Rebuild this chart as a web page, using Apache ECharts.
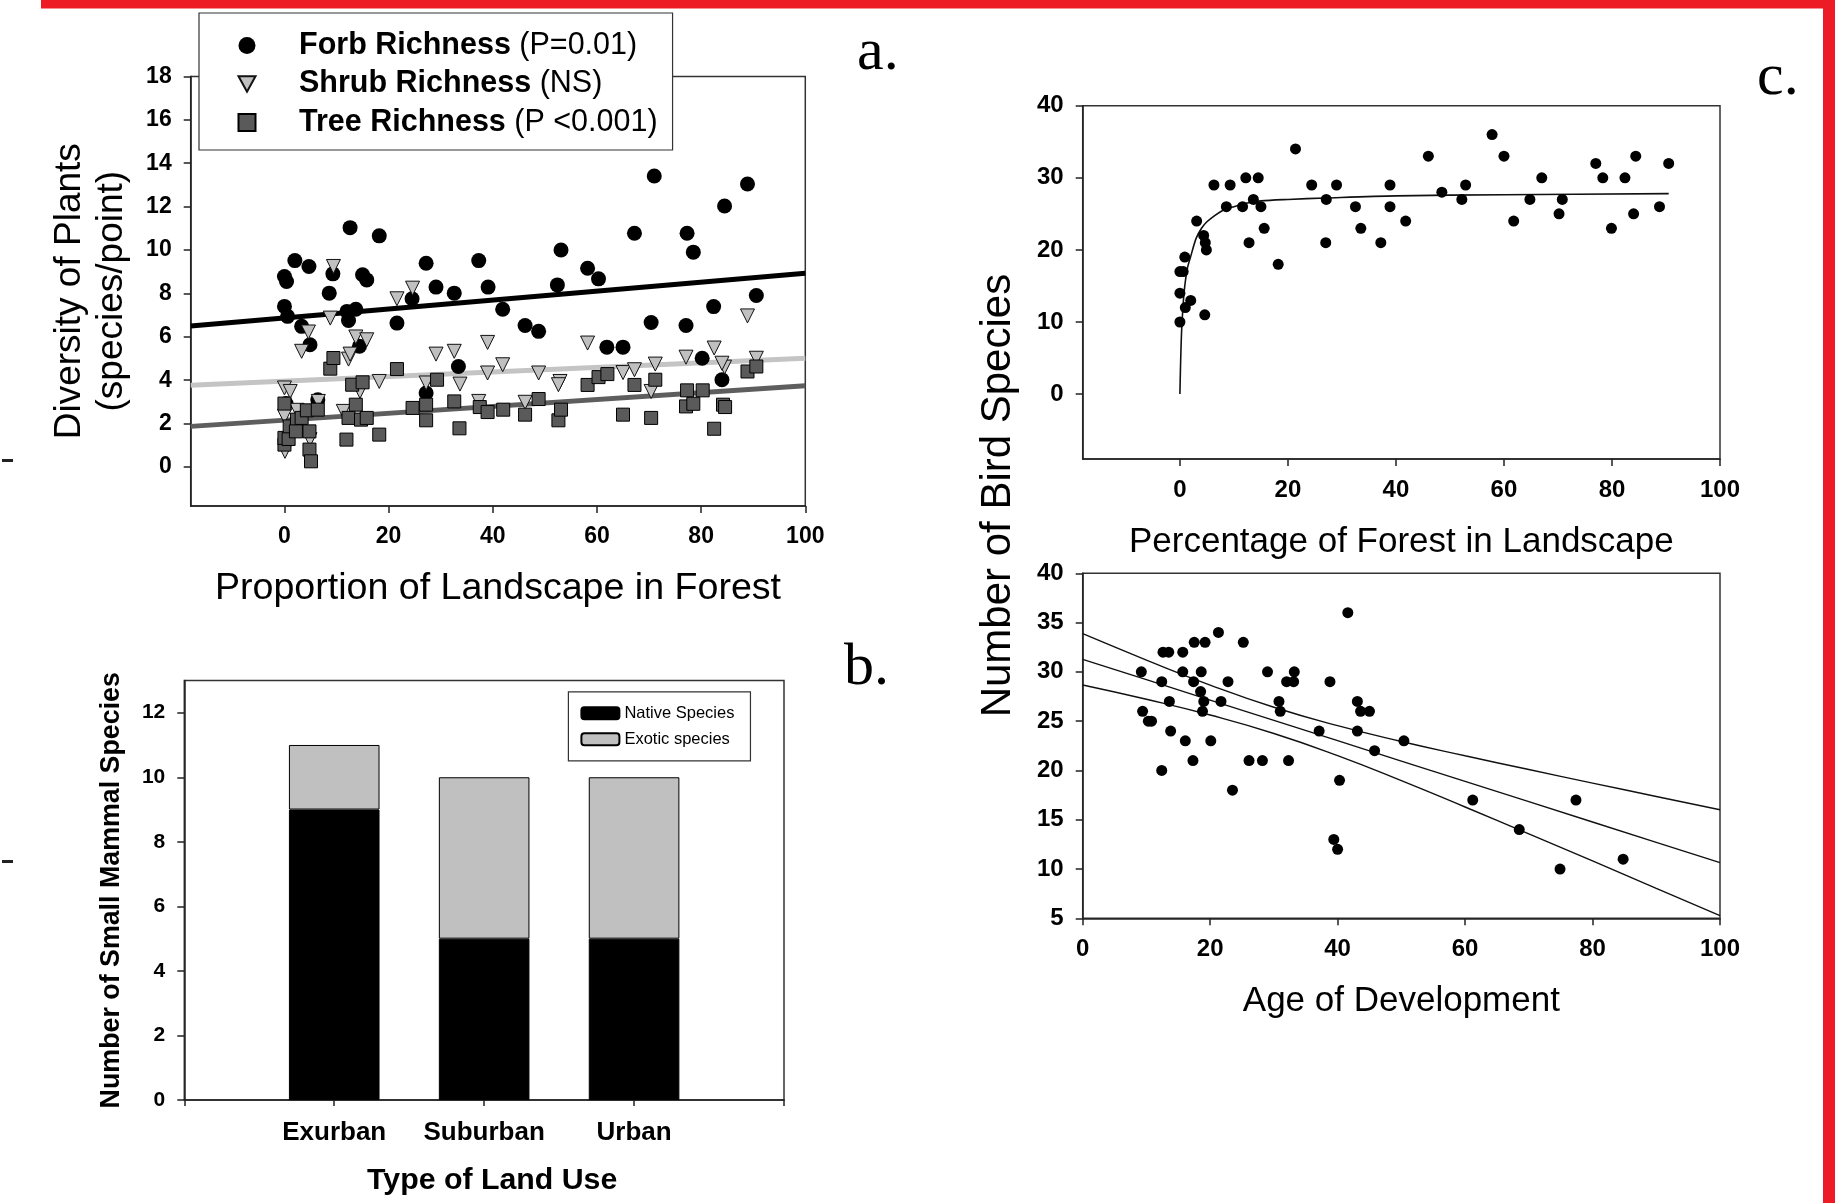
<!DOCTYPE html>
<html>
<head>
<meta charset="utf-8">
<script src="https://cdn.jsdelivr.net/npm/echarts@6/dist/echarts.min.js"></script>
<style>
html,body{margin:0;padding:0;background:#fff;}
#chart{width:1835px;height:1203px;}
</style>
</head>
<body>
<div id="chart"></div>
<script>
// ---------------- Panel a: plant diversity ----------------
const aXTicks = [0, 20, 40, 60, 80, 100];
const aYTicks = [0, 2, 4, 6, 8, 10, 12, 14, 16, 18];
const forbPts = [[0,8.78],[0.4,8.55],[2.0,9.51],[4.7,9.24],[0,7.40],[0.6,6.94],[3.3,6.48],[4.9,5.63],[9.3,8.90],[8.6,8.01],[12.6,11.03],[12.0,7.17],[12.3,6.75],[13.7,7.27],[15.0,8.86],[15.8,8.62],[14.4,5.56],[18.2,10.65],[21.6,6.63],[24.5,7.75],[27.2,9.39],[29.1,8.29],[32.6,8.01],[33.4,4.63],[27.2,3.41],[37.3,9.51],[39.1,8.29],[41.9,7.27],[46.2,6.52],[48.8,6.25],[53.1,10.0],[52.4,8.39],[0.3,2.92],[6.4,3.1],[71.0,13.41],[88.9,13.04],[84.5,12.03],[67.2,10.77],[77.3,10.77],[78.5,9.90],[58.2,9.16],[60.3,8.67],[90.6,7.90],[82.4,7.39],[70.4,6.66],[77.1,6.52],[61.9,5.52],[65.0,5.52],[80.2,5.01],[84.0,4.02]];
const shrubPts = [[9.4,9.24],[3.3,5.33],[4.6,6.22],[8.8,6.86],[12.3,4.97],[12.6,5.2],[13.7,5.99],[15.8,5.86],[0,3.64],[1.1,3.48],[0,2.33],[2.4,2.61],[4.9,1.26],[0.1,0.72],[6.5,3.02],[14.5,3.48],[11.3,2.56],[18.2,3.94],[21.6,7.75],[24.6,8.24],[27.2,3.87],[29.1,5.2],[32.6,5.33],[33.7,3.82],[39.0,5.74],[39.0,4.33],[41.9,4.71],[37.3,3.02],[46.2,2.98],[48.8,4.33],[52.9,3.94],[52.6,3.79],[58.2,5.71],[88.9,6.96],[65.0,4.35],[67.2,4.48],[71.2,4.74],[70.4,3.48],[77.1,5.06],[82.5,5.48],[84.5,4.60],[84.0,4.78],[90.6,5.01]];
const treePts = [[0,2.92],[0,1.03],[0,1.34],[0.8,1.29],[1.0,1.87],[2.4,2.18],[3.3,2.26],[2.2,1.64],[4.8,1.64],[4.3,2.61],[4.8,0.80],[5.1,0.26],[6.4,2.64],[8.8,4.53],[9.4,5.02],[11.9,1.26],[12.3,2.26],[13.0,3.79],[13.7,2.87],[14.7,2.18],[15.8,2.26],[15.0,3.90],[18.2,1.49],[21.6,4.51],[24.6,2.72],[27.2,2.87],[27.2,2.15],[29.3,4.02],[32.6,3.02],[33.6,1.78],[37.5,2.76],[39.0,2.53],[42.0,2.64],[46.2,2.41],[48.8,3.13],[52.6,2.15],[53.1,2.64],[58.2,3.78],[60.3,4.14],[62.0,4.28],[67.2,3.78],[65.0,2.41],[70.4,2.26],[71.2,4.02],[77.3,3.53],[80.3,3.53],[77.1,2.79],[78.5,2.91],[82.5,1.76],[84.2,2.87],[84.6,2.76],[88.9,4.40],[90.6,4.63]];
const aFitX = [-18, 100];
const forbFit = [6.5, 8.93];
const shrubFit = [3.76, 5.01];
const treeFit = [1.87, 3.74];

// ---------------- Panel b: small mammals ----------------
const bCats = ['', 'Exurban', 'Suburban', 'Urban', ''];
const nativeVals = [null, 9, 5, 5, null];
const exoticVals = [null, 2, 5, 5, null];
const bYTicks = [0, 2, 4, 6, 8, 10, 12];

// ---------------- Panel c (top): birds vs forest ----------------
const cTopXTicks = [0, 20, 40, 60, 80, 100];
const cTopYTicks = [0, 10, 20, 30, 40];
const birdForestPts = [[21.4,34],[12.2,30],[14.5,30],[6.3,29],[9.3,29],[24.4,29],[29.0,29],[38.9,29],[13.6,27],[27.1,27],[8.6,26],[11.6,26],[15.0,26],[32.5,26],[38.9,26],[3.1,24],[15.6,23],[33.5,23],[41.8,24],[4.4,22],[4.7,21],[4.9,20],[12.8,21],[27.0,21],[37.2,21],[18.2,18],[0.9,19],[0,17],[0.6,17],[0,14],[2.0,13],[1.0,12],[0,10],[4.6,11],[57.8,36],[46.0,33],[60.0,33],[84.4,33],[77.0,32],[90.5,32],[67.0,30],[78.3,30],[82.4,30],[52.9,29],[48.5,28],[52.2,27],[64.8,27],[70.8,27],[61.8,24],[70.2,25],[84.0,25],[88.8,26],[79.9,23]];
const curveX = [0, 0.1, 0.3, 0.6, 0.9, 1.4, 2, 3, 4, 5, 6.5, 8, 10, 12.5, 15, 20, 27, 40, 60, 90.5];
const curveY = [0, 3.5, 8.5, 12.5, 15, 17.5, 19.1, 21.6, 23, 23.9, 24.8, 25.5, 26, 26.5, 26.8, 27, 27.2, 27.5, 27.65, 27.8];

// ---------------- Panel c (bottom): birds vs age ----------------
const birdAgePts = [[41.6,36],[21.3,34],[17.5,33],[19.2,33],[25.2,33],[12.6,32],[13.5,32],[15.7,32],[9.2,30],[15.7,30],[18.6,30],[29.0,30],[33.2,30],[12.4,29],[17.4,29],[22.8,29],[32.0,29],[33.1,29],[38.8,29],[18.5,28],[13.6,27],[19.0,27],[21.7,27],[30.8,27],[43.1,27],[9.4,26],[18.8,26],[31.0,26],[43.6,26],[45.0,26],[10.3,25],[10.8,25],[13.8,24],[37.1,24],[43.1,24],[50.4,23],[16.1,23],[20.1,23],[45.8,22],[17.3,21],[26.1,21],[28.2,21],[32.3,21],[12.4,20],[40.3,19],[23.5,18],[39.4,13],[40.0,12],[61.2,17],[77.4,17],[68.5,14],[84.8,11],[74.9,10]];
const ageX = [0, 10, 20, 30, 40, 50, 60, 70, 80, 90, 100];
const ageUpper = [33.87, 31.20, 28.66, 26.41, 24.54, 22.94, 21.49, 20.09, 18.72, 17.36, 16.01];
const ageFit = [31.27, 29.21, 27.14, 25.08, 23.02, 20.95, 18.89, 16.83, 14.77, 12.70, 10.64];
const ageLower = [28.67, 27.22, 25.62, 23.75, 21.50, 18.96, 16.29, 13.57, 10.82, 8.04, 5.27];

const legendLabelsA = {
  'Forb Richness': '{pad| }{b|Forb Richness} (P=0.01)',
  'Shrub Richness': '{pad| }{b|Shrub Richness} (NS)',
  'Tree Richness': '{pad| }{b|Tree Richness} (P <0.001)'
};

const FONT = "'Liberation Sans', Arial, Helvetica, sans-serif";
const SERIF = "'Liberation Serif', 'Times New Roman', serif";
const AXC = '#222';
const DOWN_TRI = 'path://M0,0 L10,0 L5,9 Z';

function zip(xs, ys) { return xs.map((x, i) => [x, ys[i]]); }

function valAxis(grid, min, max, ticks, labelSize, extra) {
  const ax = {
    type: 'value', gridIndex: grid, min: min, max: max,
    splitLine: { show: false },
    axisLine: { show: true, onZero: false, lineStyle: { color: AXC, width: 1.5 } },
    axisTick: { show: true, length: 7, lineStyle: { color: AXC, width: 1.5 } },
    axisLabel: { fontFamily: FONT, fontWeight: 'bold', fontSize: labelSize, color: '#000', margin: 19 }
  };
  if (ticks) {
    ax.axisTick.customValues = ticks;
    ax.axisLabel.customValues = ticks;
  }
  return Object.assign(ax, extra || {});
}

const chart = echarts.init(document.getElementById('chart'), null, { renderer: 'canvas' });

const option = {
  backgroundColor: '#fff',
  animation: false,
  grid: [
    { left: 190.7, top: 76.4, width: 614.6, height: 429.6, show: true, borderColor: '#333', borderWidth: 1.5, backgroundColor: 'transparent' },
    { left: 184.3, top: 680.4, width: 599.7, height: 419.7, show: true, borderColor: '#333', borderWidth: 1.5, backgroundColor: 'transparent' },
    { left: 1082.7, top: 105.7, width: 637.3, height: 353.3, show: true, borderColor: '#333', borderWidth: 1.5, backgroundColor: 'transparent' },
    { left: 1082.7, top: 573.3, width: 637.3, height: 345, show: true, borderColor: '#333', borderWidth: 1.5, backgroundColor: 'transparent' }
  ],
  xAxis: [
    valAxis(0, -18, 100, aXTicks, 23, {
      name: 'Proportion of Landscape in Forest', nameLocation: 'middle', nameGap: 64,
      nameTextStyle: { fontFamily: FONT, fontSize: 37.6, color: '#000' }
    }),
    {
      type: 'category', gridIndex: 1, data: bCats, boundaryGap: false,
      axisLine: { show: true, onZero: false, lineStyle: { color: AXC, width: 1.5 } },
      axisTick: { show: true, length: 6, interval: 0, lineStyle: { color: AXC, width: 1.5 } },
      axisLabel: { interval: 0, fontFamily: FONT, fontWeight: 'bold', fontSize: 26, color: '#000', margin: 20 },
      splitLine: { show: false },
      name: 'Type of Land Use', nameLocation: 'middle', nameGap: 66,
      nameTextStyle: { fontFamily: FONT, fontWeight: 'bold', fontSize: 30.3, color: '#000', padding: [0, 0, 0, 16] }
    },
    valAxis(2, -18, 100, cTopXTicks, 24, {
      name: 'Percentage of Forest in Landscape', nameLocation: 'middle', nameGap: 66,
      nameTextStyle: { fontFamily: FONT, fontSize: 35, color: '#000' }
    }),
    valAxis(3, 0, 100, null, 24, {
      interval: 20,
      name: 'Age of Development', nameLocation: 'middle', nameGap: 66,
      nameTextStyle: { fontFamily: FONT, fontSize: 35, color: '#000' }
    })
  ],
  yAxis: [
    valAxis(0, -1.8, 18, aYTicks, 23, {
      name: 'Diversity of Plants\n(species/point)', nameLocation: 'middle', nameGap: 58, nameRotate: 90,
      nameTextStyle: { fontFamily: FONT, fontSize: 37, color: '#000', lineHeight: 42 }
    }),
    valAxis(1, 0, 13, bYTicks, 21, {
      name: 'Number of Small Mammal Species', nameLocation: 'middle', nameGap: 59, nameRotate: 90,
      nameTextStyle: { fontFamily: FONT, fontWeight: 'bold', fontSize: 26.8, color: '#000' }
    }),
    valAxis(2, -9, 40, cTopYTicks, 24),
    valAxis(3, 5, 40, null, 24, { interval: 5 })
  ],
  legend: [
    {
      data: [
        { name: 'Forb Richness', icon: 'circle' },
        { name: 'Shrub Richness', icon: DOWN_TRI },
        { name: 'Tree Richness', icon: 'rect' }
      ],
      orient: 'vertical', left: 199, top: 13,
      padding: [17, 15, 12, 38.5], itemWidth: 17, itemHeight: 17, itemGap: 7.5,
      backgroundColor: '#fff', borderColor: '#333', borderWidth: 1.2,
      selectedMode: false, z: 10,
      formatter: function (name) { return legendLabelsA[name]; },
      textStyle: {
        fontFamily: FONT, fontSize: 30.5, color: '#000', lineHeight: 30,
        rich: {
          b: { fontFamily: FONT, fontSize: 30.5, fontWeight: 'bold', color: '#000', lineHeight: 30 },
          pad: { width: 38.5, fontSize: 30.5, lineHeight: 30 }
        }
      }
    },
    {
      data: ['Native Species', 'Exotic species'],
      orient: 'vertical', left: 568.4, top: 691.8,
      padding: [13, 16, 13, 12], itemWidth: 38, itemHeight: 12, itemGap: 9,
      backgroundColor: '#fff', borderColor: '#333', borderWidth: 1.2,
      selectedMode: false, z: 10,
      textStyle: { fontFamily: FONT, fontSize: 16.5, color: '#000', lineHeight: 16 }
    }
  ],
  series: [
    // panel a regression lines
    { type: 'line', xAxisIndex: 0, yAxisIndex: 0, data: zip(aFitX, forbFit), symbol: 'none', lineStyle: { color: '#000', width: 5 }, silent: true, z: 1 },
    { type: 'line', xAxisIndex: 0, yAxisIndex: 0, data: zip(aFitX, shrubFit), symbol: 'none', lineStyle: { color: '#c4c4c4', width: 5 }, silent: true, z: 1 },
    { type: 'line', xAxisIndex: 0, yAxisIndex: 0, data: zip(aFitX, treeFit), symbol: 'none', lineStyle: { color: '#5e5e5e', width: 5 }, silent: true, z: 1 },
    // panel a points
    { name: 'Forb Richness', type: 'scatter', xAxisIndex: 0, yAxisIndex: 0, data: forbPts, symbol: 'circle', symbolSize: 15, itemStyle: { color: '#000', opacity: 1 }, z: 2 },
    { name: 'Shrub Richness', type: 'scatter', xAxisIndex: 0, yAxisIndex: 0, data: shrubPts, symbol: 'triangle', symbolRotate: 180, symbolSize: 14, itemStyle: { color: '#c0c0c0', borderColor: '#111', borderWidth: 1, opacity: 1 }, z: 3 },
    { name: 'Tree Richness', type: 'scatter', xAxisIndex: 0, yAxisIndex: 0, data: treePts, symbol: 'rect', symbolSize: 13, itemStyle: { color: '#5a5a5a', borderColor: '#000', borderWidth: 1, opacity: 1 }, z: 4 },
    // panel b bars
    { name: 'Native Species', type: 'bar', xAxisIndex: 1, yAxisIndex: 1, stack: 'mam', data: nativeVals, barWidth: 90.6, itemStyle: { color: '#000', borderColor: '#000', borderWidth: 1 } },
    { name: 'Exotic species', type: 'bar', xAxisIndex: 1, yAxisIndex: 1, stack: 'mam', data: exoticVals, barWidth: 90.6, itemStyle: { color: '#c0c0c0', borderColor: '#000', borderWidth: 1 } },
    // panel c top
    { type: 'line', xAxisIndex: 2, yAxisIndex: 2, data: zip(curveX, curveY), symbol: 'none', smooth: 0.3, lineStyle: { color: '#111', width: 1.6 }, silent: true, z: 1 },
    { type: 'scatter', xAxisIndex: 2, yAxisIndex: 2, data: birdForestPts, symbol: 'circle', symbolSize: 11, itemStyle: { color: '#000', opacity: 1 }, z: 2 },
    // panel c bottom
    { type: 'line', xAxisIndex: 3, yAxisIndex: 3, data: zip(ageX, ageUpper), symbol: 'none', smooth: true, lineStyle: { color: '#111', width: 1.4 }, silent: true, z: 1 },
    { type: 'line', xAxisIndex: 3, yAxisIndex: 3, data: zip(ageX, ageFit), symbol: 'none', lineStyle: { color: '#111', width: 1.4 }, silent: true, z: 1 },
    { type: 'line', xAxisIndex: 3, yAxisIndex: 3, data: zip(ageX, ageLower), symbol: 'none', smooth: true, lineStyle: { color: '#111', width: 1.4 }, silent: true, z: 1 },
    { type: 'scatter', xAxisIndex: 3, yAxisIndex: 3, data: birdAgePts, symbol: 'circle', symbolSize: 11, itemStyle: { color: '#000', opacity: 1 }, z: 2 }
  ],
  graphic: [
    { type: 'rect', left: 41, top: 0, shape: { width: 1794, height: 8.5 }, style: { fill: '#ed1c24' }, z: 100 },
    { type: 'rect', left: 1823, top: 0, shape: { width: 12, height: 1203 }, style: { fill: '#ed1c24' }, z: 100 },
    { type: 'rect', left: 2, top: 459, shape: { width: 11, height: 3 }, style: { fill: '#222' } },
    { type: 'rect', left: 2, top: 860, shape: { width: 11, height: 3 }, style: { fill: '#222' } },
    { type: 'text', x: 998, y: 495.6, rotation: Math.PI / 2,
      style: { text: 'Number of Bird Species', fontFamily: FONT, fontSize: 42, fill: '#000', align: 'center', verticalAlign: 'middle' } },
    { type: 'text', x: 857, y: 53, style: { text: 'a.', fontFamily: SERIF, fontSize: 60, fill: '#000', align: 'left', verticalAlign: 'middle' } },
    { type: 'text', x: 844, y: 668, style: { text: 'b.', fontFamily: SERIF, fontSize: 60, fill: '#000', align: 'left', verticalAlign: 'middle' } },
    { type: 'text', x: 1757, y: 78, style: { text: 'c.', fontFamily: SERIF, fontSize: 60, fill: '#000', align: 'left', verticalAlign: 'middle' } }
  ]
};

chart.setOption(option);
</script>
</body>
</html>
